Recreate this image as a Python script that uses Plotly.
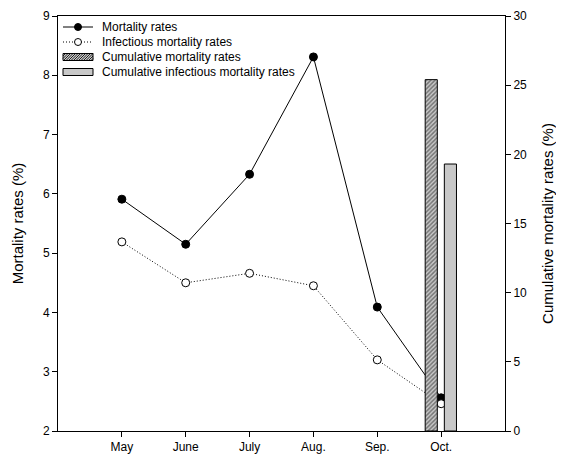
import plotly.graph_objects as go

months = ["May", "June", "July", "Aug.", "Sep.", "Oct."]
mortality = [5.91, 5.15, 6.33, 8.31, 4.09, 2.56]
infectious = [5.19, 4.50, 4.66, 4.45, 3.20, 2.46]
cum_month = ["Oct."]
cum_mortality = [25.4]
cum_infectious = [19.3]
legend_labels = ["Mortality rates", "Infectious mortality rates",
                 "Cumulative mortality rates", "Cumulative infectious mortality rates"]

font = "Liberation Sans, Arial, sans-serif"
OFF = 8  # default page body margin
VW, VH = 564, 456
W, H = VW - OFF, VH - OFF
# plot area in viewport pixels: x 58..505, y 16..431
ML, MR, MT, MB = 58 - OFF, VW - 505, 16 - OFF, VH - 431
PW, PH = W - ML - MR, H - MT - MB
DOT = "1px,2px"


def fx(px):  # viewport px -> paper fraction
    return (px - OFF - ML) / PW


def fy(py):
    return (OFF + H - MB - py) / PH


fig = go.Figure()
fig.add_trace(go.Scatter(
    x=months, y=mortality, name=legend_labels[0], mode="lines+markers",
    line=dict(color="black", width=1),
    marker=dict(symbol="circle", size=8, color="black", line=dict(color="black", width=1)),
    showlegend=False,
))
fig.add_trace(go.Scatter(
    x=months, y=infectious, name=legend_labels[1], mode="lines+markers",
    line=dict(color="black", width=1, dash=DOT),
    marker=dict(symbol="circle", size=8, color="white", line=dict(color="black", width=1)),
    showlegend=False,
))
fig.add_trace(go.Bar(
    x=cum_month, y=cum_mortality, name=legend_labels[2], yaxis="y2",
    offset=-0.25, width=0.19, showlegend=False,
    marker=dict(color="#c0c0c0", line=dict(color="black", width=1),
                pattern=dict(shape="/", fgcolor="#222222", bgcolor="#c8c8c8", size=3, solidity=0.5)),
))
fig.add_trace(go.Bar(
    x=cum_month, y=cum_infectious, name=legend_labels[3], yaxis="y2",
    offset=0.05, width=0.19, showlegend=False,
    marker=dict(color="#c8c8c8", line=dict(color="black", width=1)),
))

# ---- manual legend (to mimic the original compact legend) ----
shapes = []
annotations = []
rows = [27, 42, 57, 72]
sx0, sx1, smid, tx = 63, 93, 78, 100
shapes.append(dict(type="line", xref="paper", yref="paper", x0=fx(sx0), x1=fx(sx1),
                   y0=fy(rows[0]), y1=fy(rows[0]), line=dict(color="black", width=1)))
shapes.append(dict(type="circle", xref="paper", yref="paper", xsizemode="pixel", ysizemode="pixel",
                   xanchor=fx(smid), yanchor=fy(rows[0]), x0=-3.5, x1=3.5, y0=-3.5, y1=3.5,
                   fillcolor="black", line=dict(color="black", width=1)))
shapes.append(dict(type="line", xref="paper", yref="paper", x0=fx(sx0), x1=fx(sx1),
                   y0=fy(rows[1]), y1=fy(rows[1]), line=dict(color="black", width=1, dash=DOT)))
shapes.append(dict(type="circle", xref="paper", yref="paper", xsizemode="pixel", ysizemode="pixel",
                   xanchor=fx(smid), yanchor=fy(rows[1]), x0=-3.5, x1=3.5, y0=-3.5, y1=3.5,
                   fillcolor="white", line=dict(color="black", width=1)))
ry0, ry1 = rows[2] - 3.5, rows[2] + 3.5
shapes.append(dict(type="rect", xref="paper", yref="paper", x0=fx(sx0), x1=fx(sx1),
                   y0=fy(ry1), y1=fy(ry0), fillcolor="#c8c8c8", line=dict(width=0), layer="above"))
path = ""
k = sx0 - 7
while k < sx1:
    xa, ya = k, ry1
    xb, yb = k + 7, ry0
    if xa < sx0:
        ya = ry1 - (sx0 - xa)
        xa = sx0
    if xb > sx1:
        yb = ry0 + (xb - sx1)
        xb = sx1
    if xb > xa:
        path += f"M{fx(xa)},{fy(ya)} L{fx(xb)},{fy(yb)} "
    k += 2.5
shapes.append(dict(type="path", xref="paper", yref="paper", path=path,
                   line=dict(color="#222222", width=1), layer="above"))
shapes.append(dict(type="rect", xref="paper", yref="paper", x0=fx(sx0), x1=fx(sx1),
                   y0=fy(ry1), y1=fy(ry0), line=dict(color="black", width=1), layer="above"))
ry0, ry1 = rows[3] - 3.5, rows[3] + 3.5
shapes.append(dict(type="rect", xref="paper", yref="paper", x0=fx(sx0), x1=fx(sx1),
                   y0=fy(ry1), y1=fy(ry0), fillcolor="#c8c8c8",
                   line=dict(color="black", width=1), layer="above"))
for lab, r in zip(legend_labels, rows):
    annotations.append(dict(text=lab, xref="paper", yref="paper", x=fx(tx), y=fy(r),
                            xanchor="left", yanchor="middle", showarrow=False,
                            font=dict(size=12, family=font, color="black")))

fig.update_layout(
    width=W, height=H,
    margin=dict(l=ML, r=MR, t=MT, b=MB),
    paper_bgcolor="white", plot_bgcolor="white",
    font=dict(family=font, size=12, color="black"),
    barmode="overlay",
    showlegend=False,
    shapes=shapes,
    annotations=annotations,
    xaxis=dict(
        type="category", categoryorder="array", categoryarray=months,
        range=[-1, 6], showgrid=False, zeroline=False, automargin=False,
        showline=True, linecolor="black", linewidth=1, mirror=True,
        ticks="outside", ticklen=5, tickcolor="black",
        tickfont=dict(size=12),
    ),
    yaxis=dict(
        range=[2, 9], dtick=1, showgrid=False, zeroline=False, automargin=False,
        showline=True, linecolor="black", linewidth=1,
        ticks="outside", ticklen=5, tickcolor="black",
        title=dict(text="Mortality rates (%)", font=dict(size=15), standoff=15),
        tickfont=dict(size=12),
    ),
    yaxis2=dict(
        overlaying="y", side="right", automargin=False,
        range=[0, 30], dtick=5, showgrid=False, zeroline=False,
        showline=True, linecolor="black", linewidth=1,
        ticks="outside", ticklen=5, tickcolor="black",
        title=dict(text="Cumulative mortality rates (%)", font=dict(size=15), standoff=16),
        tickfont=dict(size=12),
    ),
)

fig.write_html("out.html")
